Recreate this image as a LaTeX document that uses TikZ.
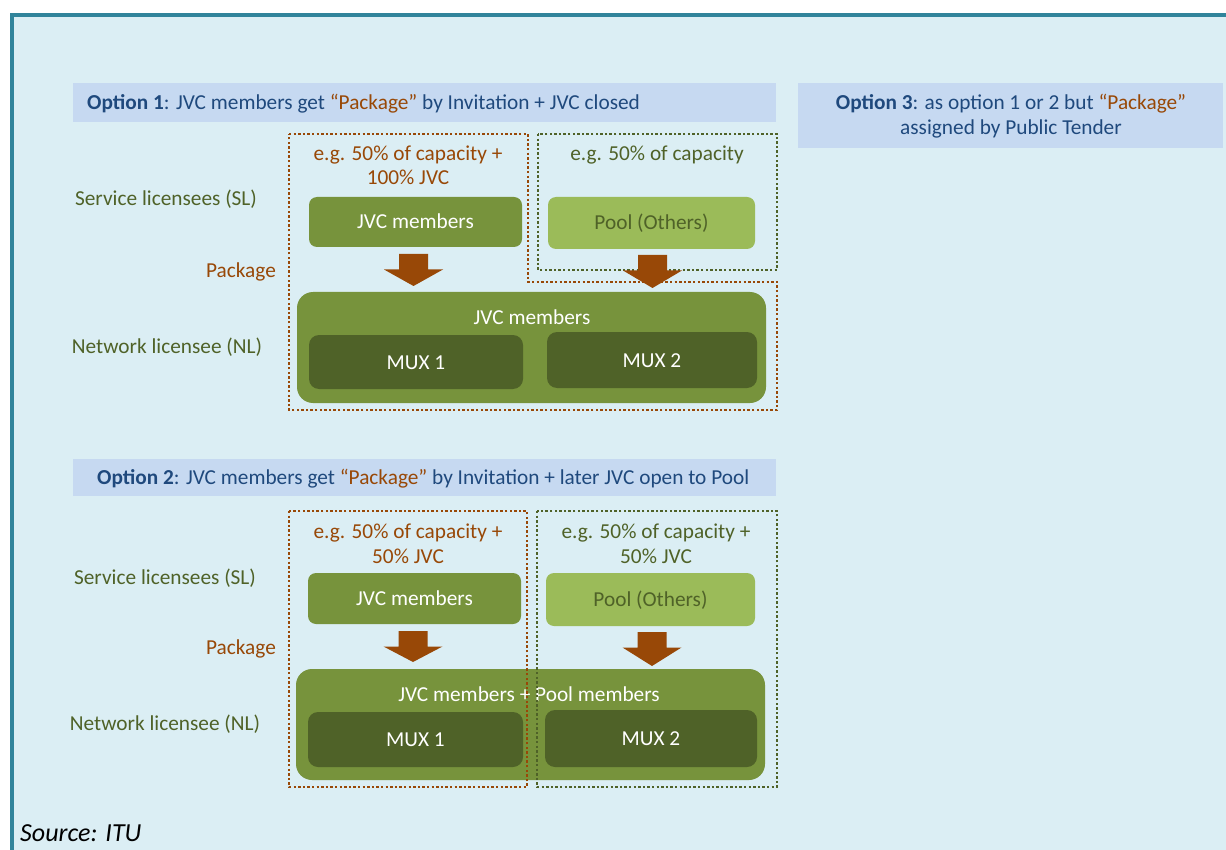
\documentclass[tikz,border=0pt]{standalone}
\usepackage{fontspec}
\setmainfont{Carlito}
\definecolor{pagebg}{HTML}{DBEEF4}
\definecolor{frameteal}{HTML}{31849B}
\definecolor{bannerfill}{HTML}{C6D9F1}
\definecolor{navy}{HTML}{1F497D}
\definecolor{rust}{HTML}{984807}
\definecolor{olivedark}{HTML}{4F6228}
\definecolor{olivemid}{HTML}{77933C}
\definecolor{olivelight}{HTML}{9BBB59}
\newcommand{\txtsize}{\fontsize{21.3}{25}\selectfont}
% block arrow pointing down: centre x, top y, tip y
\newcommand{\blockdown}[3]{%
  \fill[rust] (#1-14.5,#2) -- (#1+14.5,#2) -- (#1+14.5,#2+15.5) -- (#1+29.5,#2+15.5)
    -- (#1,#3) -- (#1-29.5,#2+15.5) -- (#1-14.5,#2+15.5) -- cycle;}
\begin{document}
\begin{tikzpicture}[x=1pt,y=-1pt,
  txt/.style={font=\txtsize, inner sep=0, text height=14, text depth=0},
  sidelbl/.style={txt, text=olivedark},
  pkglbl/.style={txt, text=rust},
  banner/.style={fill=bannerfill, inner sep=0},
  bannertxt/.style={txt, text=navy},
  jvcbox/.style={txt, fill=olivemid, rounded corners=8, text=white},
  poolbox/.style={txt, fill=olivelight, rounded corners=8, text=olivedark},
  container/.style={fill=olivemid, rounded corners=16, inner sep=0},
  muxbox/.style={txt, fill=olivedark, rounded corners=10, text=white},
  rustdots/.style={draw=rust, line width=2.6, dash pattern=on 2.4 off 2.2},
  olivedots/.style={draw=olivedark, line width=2.6, dash pattern=on 2.4 off 2.2}]
\useasboundingbox (0,0) rectangle (1226,850);
% page and frame
\fill[white] (0,0) rectangle (1226,850);
\fill[pagebg] (10,13) rectangle (1226,850);
\fill[frameteal] (10,13) rectangle (1226,17);
\fill[frameteal] (10,13) rectangle (14,850);

% ---------- Option 3 ----------
\node[banner, minimum width=425, minimum height=65] (ban3) at (1010,115.5) {};
\node[bannertxt] (ban3a) at (1011,103) {\textbf{Option 3}: as option 1 or 2 but \textcolor{rust}{“Package”}};
\node[bannertxt] (ban3b) at (1011,128) {assigned by Public Tender};

% ---------- Option 1 ----------
\node[banner, minimum width=703, minimum height=39] (ban1) at (424.5,102.5) {};
\node[bannertxt, anchor=west] (ban1t) at (87,103) {\textbf{Option 1}: JVC members get \textcolor{rust}{“Package”} by Invitation + JVC closed};

\node[sidelbl] (sl1) at (166,199) {Service licensees (SL)};
\node[pkglbl] (pk1) at (241,271) {Package};
\node[sidelbl] (nl1) at (167,346) {Network licensee (NL)};

\node[pkglbl] (cap1a) at (408,154) {e.g. 50\% of capacity +};
\node[pkglbl] (cap1b) at (408,178) {100\% JVC};
\node[sidelbl] (cap1c) at (657,154) {e.g. 50\% of capacity};

\node[jvcbox, minimum width=213, minimum height=50] (jvc1) at (415.5,222) {JVC members};
\node[poolbox, minimum width=207, minimum height=52] (pool1) at (651.5,223) {Pool (Others)};

\node[container, minimum width=469, minimum height=111] (net1) at (531.5,347.5) {};
\node[txt, text=white] (net1t) at (532,317) {JVC members};
\node[muxbox, minimum width=214, minimum height=54] (mux1a) at (416,362) {MUX 1};
\node[muxbox, minimum width=210, minimum height=56] (mux1b) at (652,360) {MUX 2};

\draw[rustdots] (289,134) -- (528,134) -- (528,282) -- (777,282) -- (777,410) -- (289,410) -- cycle;
\draw[olivedots] (538,134) rectangle (777,270);

\blockdown{413.5}{254}{286}
\blockdown{652.5}{255}{288}

% ---------- Option 2 ----------
\node[banner, minimum width=703, minimum height=37] (ban2) at (424.5,477.5) {};
\node[bannertxt, anchor=west] (ban2t) at (97,477) {\textbf{Option 2}: JVC members get \textcolor{rust}{“Package”} by Invitation + later JVC open to Pool};

\node[sidelbl] (sl2) at (165,577) {Service licensees (SL)};
\node[pkglbl] (pk2) at (241,647) {Package};
\node[sidelbl] (nl2) at (165,723) {Network licensee (NL)};

\node[pkglbl] (cap2a) at (408,531) {e.g. 50\% of capacity +};
\node[pkglbl] (cap2b) at (408,556) {50\% JVC};
\node[sidelbl] (cap2c) at (656,531) {e.g. 50\% of capacity +};
\node[sidelbl] (cap2d) at (656,556) {50\% JVC};

\node[jvcbox, minimum width=213, minimum height=51] (jvc2) at (414.5,598.5) {JVC members};
\node[poolbox, minimum width=209, minimum height=53] (pool2) at (650.5,599.5) {Pool (Others)};

\node[container, minimum width=469, minimum height=111] (net2) at (530.5,724.5) {};
\node[txt, text=white] (net2t) at (529,694) {JVC members + Pool members};
\node[muxbox, minimum width=215, minimum height=55] (mux2a) at (415.5,739.5) {MUX 1};
\node[muxbox, minimum width=212, minimum height=57] (mux2b) at (651,738.5) {MUX 2};

\draw[rustdots] (289,511) rectangle (527,787);
\draw[olivedots] (537,511) rectangle (777,787);

\blockdown{413}{631}{662}
\blockdown{652}{632}{666}

% ---------- source ----------
\node[inner sep=0, anchor=west, font=\fontsize{26}{30}\selectfont\itshape, text height=17, text depth=0] (src) at (20,833) {Source: ITU};
\end{tikzpicture}
\end{document}
